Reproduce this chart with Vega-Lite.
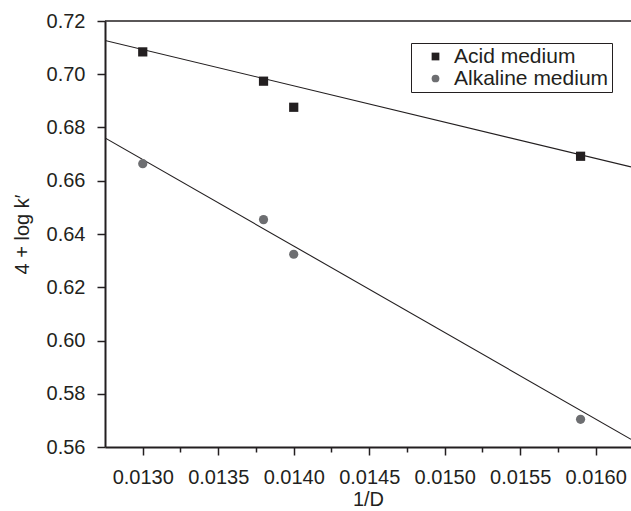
{
  "$schema": "https://vega.github.io/schema/vega-lite/v6.json",
  "autosize": "none",
  "width": 526,
  "height": 426,
  "padding": {"left": 105, "top": 21, "right": 0, "bottom": 64},
  "background": "white",
  "config": {
    "view": {"stroke": null},
    "font": "Liberation Sans",
    "axis": {
      "domainColor": "#231f20",
      "domainWidth": 2,
      "tickColor": "#231f20",
      "tickWidth": 1.5,
      "labelColor": "#231f20",
      "titleColor": "#231f20",
      "labelFont": "Liberation Sans",
      "titleFont": "Liberation Sans",
      "labelFontSize": 20,
      "titleFontSize": 20,
      "titleFontWeight": "normal",
      "grid": false
    }
  },
  "datasets": {
    "points": [
      {"inv_D": 0.0130, "value": 0.7084, "medium": "Acid medium"},
      {"inv_D": 0.0138, "value": 0.6974, "medium": "Acid medium"},
      {"inv_D": 0.0140, "value": 0.6876, "medium": "Acid medium"},
      {"inv_D": 0.0159, "value": 0.6692, "medium": "Acid medium"},
      {"inv_D": 0.0130, "value": 0.6664, "medium": "Alkaline medium"},
      {"inv_D": 0.0138, "value": 0.6454, "medium": "Alkaline medium"},
      {"inv_D": 0.0140, "value": 0.6324, "medium": "Alkaline medium"},
      {"inv_D": 0.0159, "value": 0.5704, "medium": "Alkaline medium"}
    ],
    "fits": [
      {"inv_D": 0.01275, "value": 0.7127, "medium": "Acid medium"},
      {"inv_D": 0.016234, "value": 0.6652, "medium": "Acid medium"},
      {"inv_D": 0.01275, "value": 0.6761, "medium": "Alkaline medium"},
      {"inv_D": 0.016234, "value": 0.5629, "medium": "Alkaline medium"}
    ],
    "frame": [{"top": 0.72}]
  },
  "layer": [
    {
      "data": {"name": "frame"},
      "mark": {"type": "rule", "color": "#231f20", "strokeWidth": 1.5},
      "encoding": {"y": {"field": "top", "type": "quantitative"}}
    },
    {
      "data": {"name": "fits"},
      "mark": {"type": "line", "color": "#231f20", "strokeWidth": 1.1, "clip": true},
      "encoding": {
        "x": {"field": "inv_D", "type": "quantitative"},
        "y": {"field": "value", "type": "quantitative"},
        "detail": {"field": "medium"}
      }
    },
    {
      "data": {"name": "points"},
      "mark": {"type": "point", "filled": true, "opacity": 1, "size": 85},
      "encoding": {
        "x": {
          "field": "inv_D",
          "type": "quantitative",
          "scale": {"domain": [0.01275, 0.016234], "nice": false, "zero": false},
          "axis": {
            "title": "1/D",
            "values": [0.013, 0.01325, 0.0135, 0.01375, 0.014, 0.01425, 0.0145, 0.01475, 0.015, 0.01525, 0.0155, 0.01575, 0.016],
            "labelExpr": "round(datum.value*4000) % 2 == 1 ? '' : format(datum.value, '.4f')",
            "tickSize": {"condition": {"test": "round(datum.value*4000) % 2 == 1", "value": 5}, "value": 8},
            "labelPadding": 12,
            "titlePadding": 2
          }
        },
        "y": {
          "field": "value",
          "type": "quantitative",
          "scale": {"domain": [0.56, 0.72], "nice": false, "zero": false},
          "axis": {
            "title": "4 + log k′",
            "values": [0.56, 0.57, 0.58, 0.59, 0.60, 0.61, 0.62, 0.63, 0.64, 0.65, 0.66, 0.67, 0.68, 0.69, 0.70, 0.71, 0.72],
            "labelExpr": "round(datum.value*100) % 2 == 1 ? '' : format(datum.value, '.2f')",
            "tickSize": {"condition": {"test": "round(datum.value*100) % 2 == 1", "value": 5}, "value": 8},
            "labelPadding": 12,
            "titlePadding": 14
          }
        },
        "shape": {
          "field": "medium",
          "type": "nominal",
          "scale": {"domain": ["Acid medium", "Alkaline medium"], "range": ["square", "circle"]},
          "legend": null
        },
        "color": {
          "field": "medium",
          "type": "nominal",
          "scale": {"domain": ["Acid medium", "Alkaline medium"], "range": ["#231f20", "#6d6e71"]},
          "legend": {
            "title": null,
            "orient": "none",
            "legendX": 306,
            "legendY": 22,
            "strokeColor": "#231f20",
            "padding": 3,
            "labelFont": "Liberation Sans",
            "labelFontSize": 21,
            "labelColor": "#231f20",
            "symbolSize": 60,
            "rowPadding": 0,
            "symbolOffset": 11,
            "labelOffset": 8
          }
        }
      }
    }
  ]
}
